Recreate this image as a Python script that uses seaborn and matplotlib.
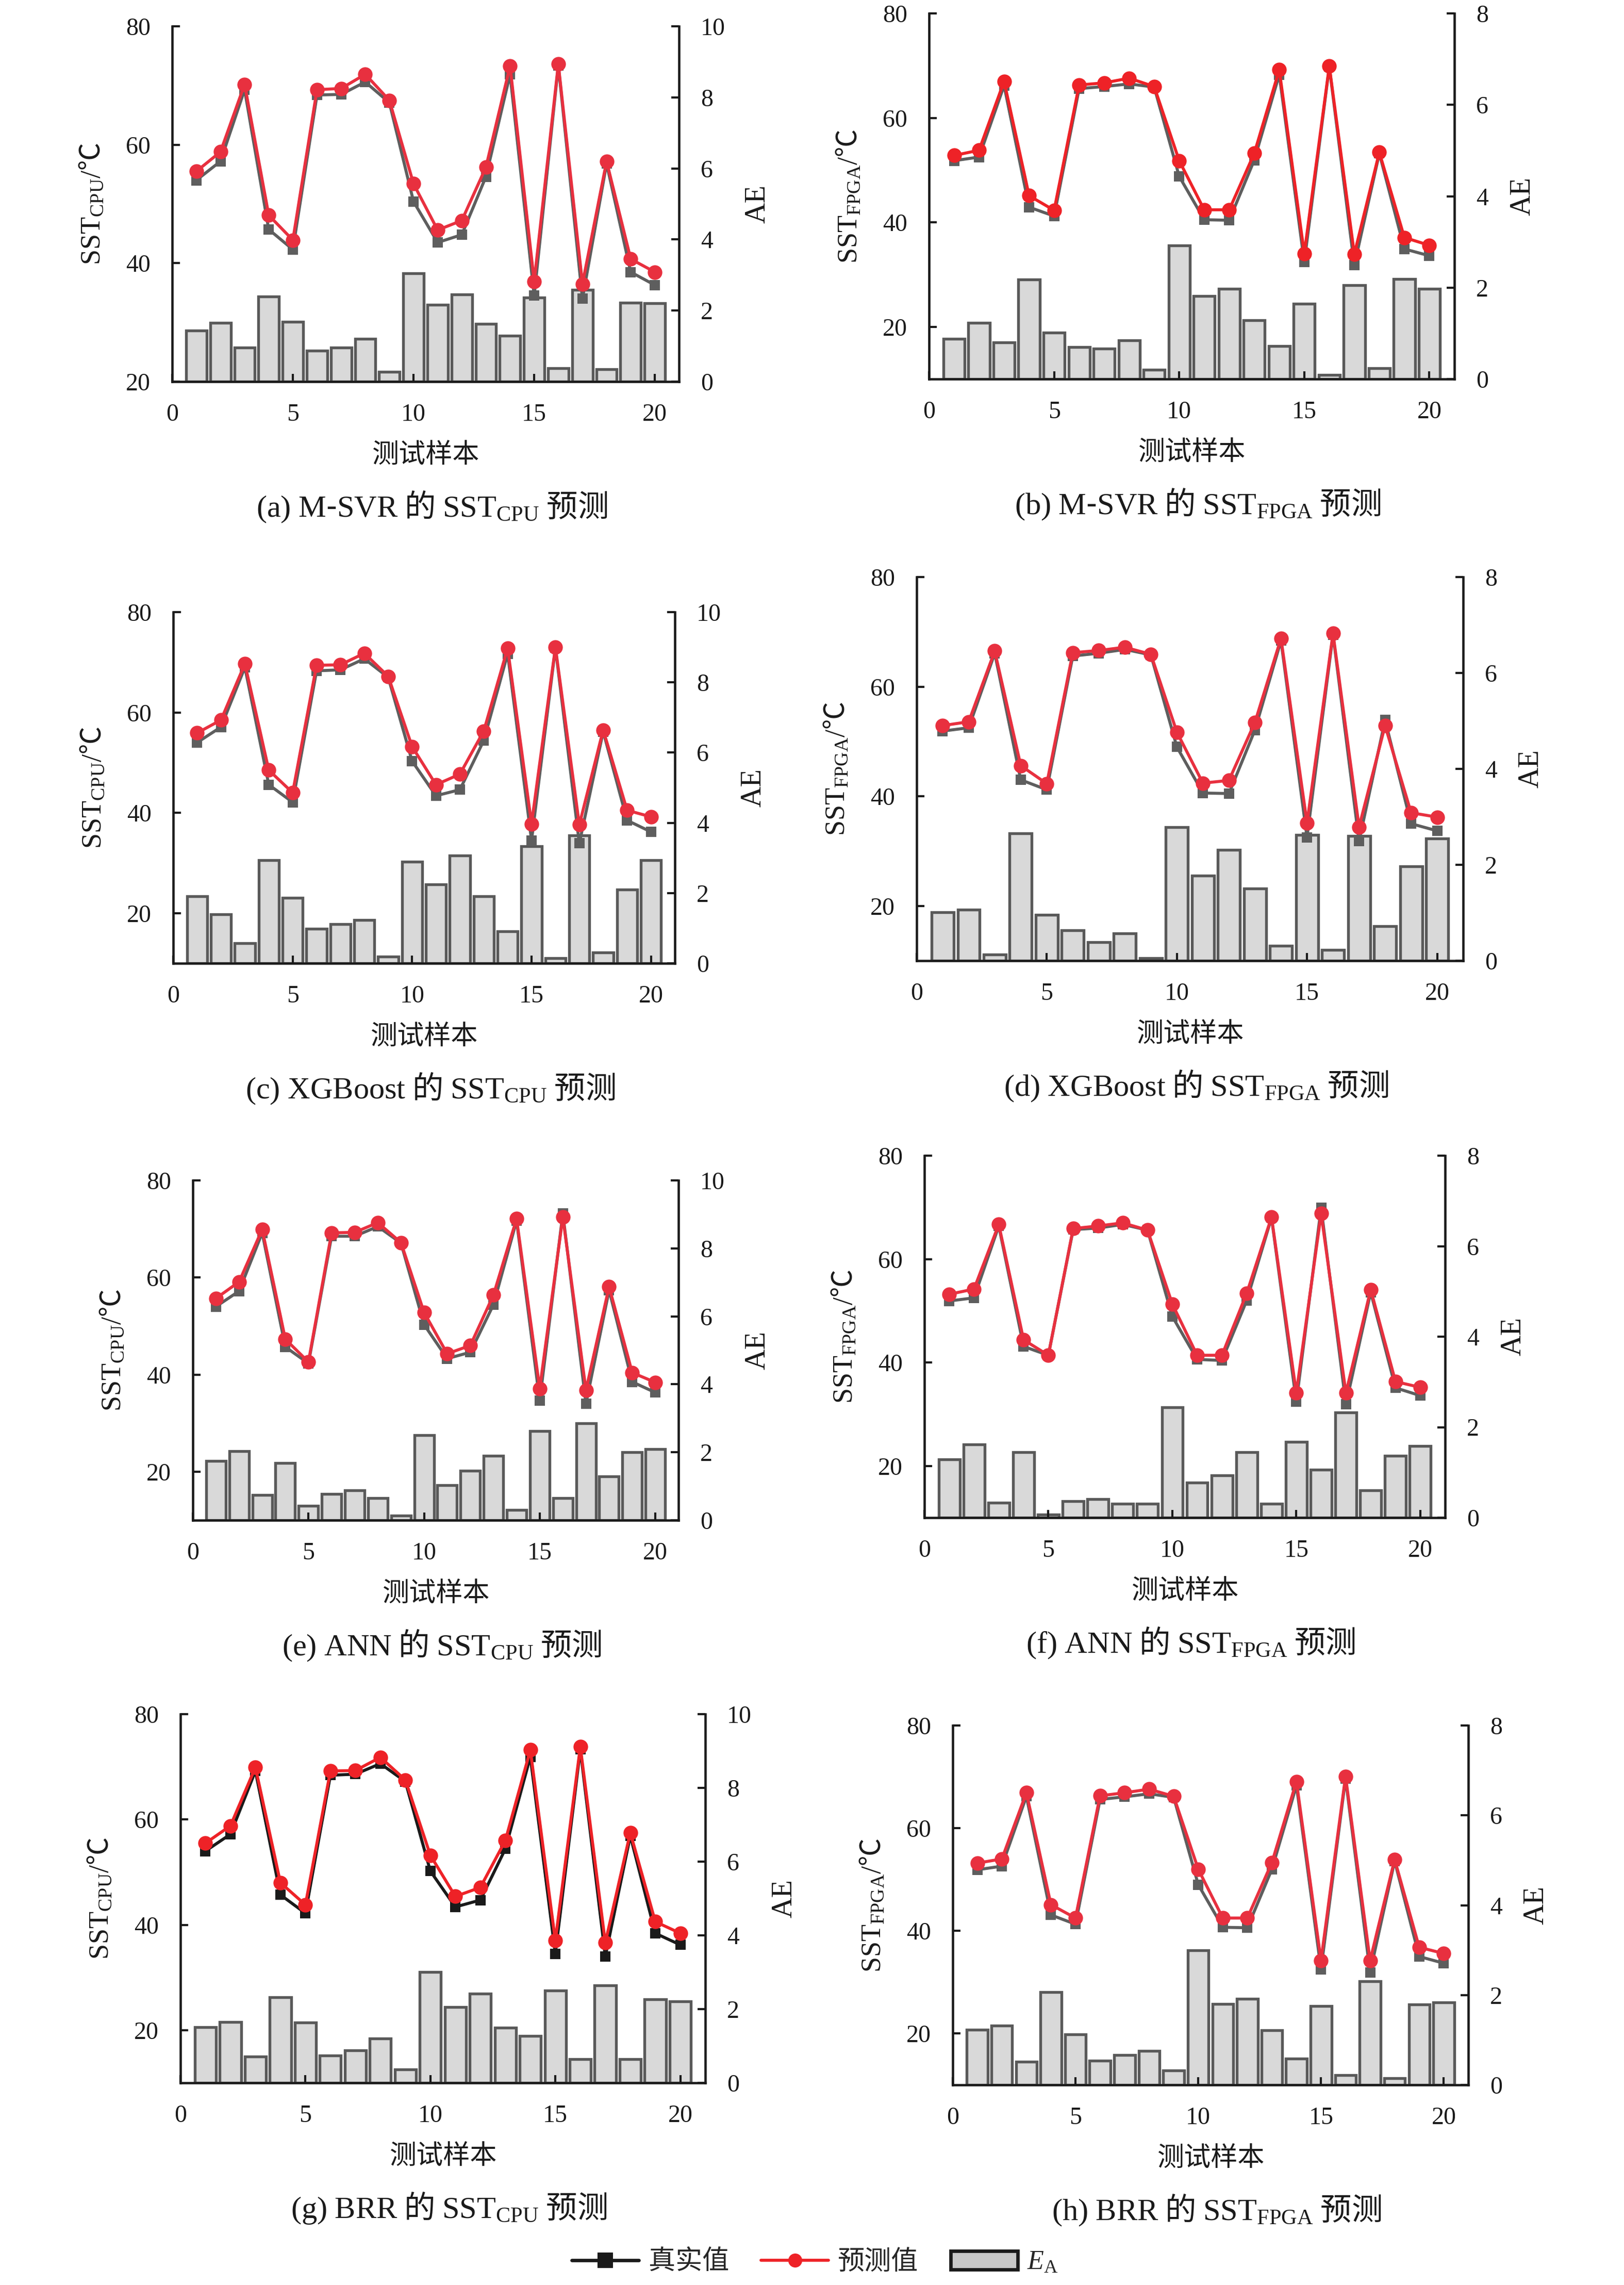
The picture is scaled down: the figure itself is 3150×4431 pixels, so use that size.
import numpy as np
import pandas as pd
import matplotlib
matplotlib.use('Agg')
import matplotlib.pyplot as plt
import seaborn as sns
from matplotlib.lines import Line2D
from matplotlib.patches import Patch

# ---------------- data ----------------
samples = list(range(1, 21))

a_real = [54.0, 57.2, 69.3, 45.7, 42.3, 68.4, 68.5, 70.6, 67.1, 50.4, 43.5, 44.8, 54.6, 71.9, 34.5, 73.4, 34.0, 56.8, 38.5, 36.3]
a_pred = [55.5, 58.8, 70.2, 48.1, 43.9, 69.3, 69.5, 71.9, 67.5, 53.4, 45.6, 47.2, 56.2, 73.3, 36.9, 73.6, 36.5, 57.2, 40.7, 38.5]
a_ae = [1.43, 1.65, 0.96, 2.40, 1.68, 0.87, 0.96, 1.21, 0.27, 3.05, 2.16, 2.45, 1.63, 1.29, 2.37, 0.38, 2.58, 0.35, 2.22, 2.21]

b_real = [51.8, 52.5, 66.2, 42.9, 41.2, 65.6, 66.0, 66.5, 65.9, 48.8, 40.5, 40.4, 51.9, 68.3, 32.4, 69.8, 31.8, 53.2, 34.9, 33.6]
b_pred = [52.8, 53.8, 67.0, 45.1, 42.3, 66.3, 66.7, 67.6, 66.0, 51.8, 42.4, 42.4, 53.2, 69.2, 34.0, 69.9, 33.9, 53.4, 37.1, 35.6]
b_ae = [0.88, 1.23, 0.80, 2.18, 1.02, 0.70, 0.67, 0.85, 0.20, 2.92, 1.82, 1.97, 1.29, 0.72, 1.65, 0.09, 2.05, 0.24, 2.19, 1.97]

c_real = [54.0, 57.1, 69.0, 45.6, 42.1, 68.3, 68.5, 70.7, 67.0, 50.3, 43.4, 44.6, 54.4, 71.7, 34.5, 72.9, 33.9, 56.2, 38.5, 36.2]
c_pred = [55.9, 58.5, 69.7, 48.5, 44.0, 69.4, 69.5, 71.8, 67.2, 53.2, 45.6, 47.7, 56.3, 72.8, 37.8, 73.0, 37.6, 56.5, 40.5, 39.2]
c_ae = [1.91, 1.40, 0.58, 2.94, 1.86, 0.98, 1.11, 1.24, 0.19, 2.90, 2.24, 3.07, 1.91, 0.91, 3.33, 0.14, 3.64, 0.31, 2.10, 2.94]

d_real = [51.9, 52.5, 66.1, 43.0, 41.2, 65.6, 66.1, 66.8, 65.8, 49.0, 40.6, 40.5, 52.1, 68.4, 32.5, 69.5, 31.8, 53.9, 35.0, 33.7]
d_pred = [52.9, 53.6, 66.5, 45.6, 42.3, 66.2, 66.6, 67.2, 65.9, 51.7, 42.4, 42.9, 53.5, 68.8, 35.1, 69.7, 34.4, 52.9, 37.0, 36.2]
d_ae = [1.01, 1.06, 0.13, 2.66, 0.96, 0.63, 0.39, 0.57, 0.05, 2.79, 1.77, 2.31, 1.51, 0.31, 2.62, 0.23, 2.60, 0.72, 1.97, 2.55]

e_real = [54.0, 57.2, 69.2, 45.7, 42.3, 68.5, 68.5, 70.5, 67.1, 50.3, 43.3, 44.6, 54.4, 71.7, 34.6, 73.2, 34.0, 57.4, 38.5, 36.3]
e_pred = [55.7, 59.1, 69.9, 47.3, 42.6, 69.2, 69.3, 71.3, 67.2, 52.8, 44.3, 46.0, 56.4, 72.1, 37.1, 72.5, 36.8, 58.1, 40.4, 38.4]
e_ae = [1.74, 2.03, 0.74, 1.69, 0.43, 0.78, 0.88, 0.66, 0.13, 2.51, 1.03, 1.45, 1.90, 0.31, 2.63, 0.65, 2.85, 1.29, 2.01, 2.10]

f_real = [51.9, 52.5, 66.4, 43.1, 41.4, 65.7, 66.0, 66.7, 65.6, 48.9, 40.6, 40.4, 52.0, 68.0, 32.4, 69.9, 31.9, 53.6, 35.1, 33.6]
f_pred = [53.2, 54.2, 66.7, 44.4, 41.4, 65.9, 66.4, 67.0, 65.6, 51.3, 41.4, 41.4, 53.4, 68.1, 34.1, 68.8, 34.1, 54.1, 36.3, 35.2]
f_ae = [1.29, 1.62, 0.33, 1.45, 0.07, 0.36, 0.41, 0.31, 0.31, 2.44, 0.77, 0.93, 1.45, 0.31, 1.68, 1.06, 2.33, 0.60, 1.37, 1.58]

g_real = [54.0, 57.2, 69.2, 45.7, 42.2, 68.4, 68.6, 70.6, 67.2, 50.2, 43.4, 44.7, 54.4, 71.9, 34.5, 73.3, 34.0, 56.9, 38.4, 36.2]
g_pred = [55.5, 58.8, 69.9, 48.0, 43.8, 69.2, 69.3, 71.8, 67.5, 53.2, 45.4, 47.1, 56.0, 73.2, 37.0, 73.8, 36.6, 57.5, 40.6, 38.4]
g_ae = [1.51, 1.65, 0.72, 2.32, 1.63, 0.74, 0.88, 1.20, 0.36, 3.01, 2.05, 2.42, 1.50, 1.27, 2.50, 0.64, 2.64, 0.64, 2.27, 2.21]

h_real = [51.9, 52.6, 66.2, 43.1, 41.3, 65.6, 66.1, 66.7, 66.0, 49.0, 40.7, 40.6, 52.0, 68.3, 32.5, 69.7, 31.9, 53.6, 35.0, 33.7]
h_pred = [53.2, 54.0, 66.9, 45.1, 42.5, 66.3, 66.9, 67.6, 66.2, 52.0, 42.5, 42.5, 53.3, 69.1, 34.2, 70.1, 34.2, 53.9, 36.8, 35.6]
h_ae = [1.23, 1.32, 0.52, 2.07, 1.12, 0.54, 0.67, 0.76, 0.32, 3.00, 1.80, 1.92, 1.22, 0.59, 1.76, 0.22, 2.31, 0.15, 1.79, 1.84]

letters = ['a', 'b', 'c', 'd', 'e', 'f', 'g', 'h']
models = ['M-SVR', 'M-SVR', 'XGBoost', 'XGBoost', 'ANN', 'ANN', 'BRR', 'BRR']
targets = ['CPU', 'FPGA', 'CPU', 'FPGA', 'CPU', 'FPGA', 'CPU', 'FPGA']
reals = [a_real, b_real, c_real, d_real, e_real, f_real, g_real, h_real]
preds = [a_pred, b_pred, c_pred, d_pred, e_pred, f_pred, g_pred, h_pred]
aes = [a_ae, b_ae, c_ae, d_ae, e_ae, f_ae, g_ae, h_ae]
x_ticks = [0, 5, 10, 15, 20]
legend_labels = ['真实值', '预测值', r'$E_{\mathrm{A}}$']

# ---------------- style ----------------
sns.set_style('ticks')
plt.rcParams['font.family'] = ['Liberation Serif', 'Noto Sans CJK SC']
plt.rcParams['mathtext.fontset'] = 'custom'
plt.rcParams['mathtext.rm'] = 'Liberation Serif'
plt.rcParams['mathtext.it'] = 'Liberation Serif:italic'
plt.rcParams['mathtext.bf'] = 'Liberation Serif:bold'
plt.rcParams['axes.unicode_minus'] = False
plt.rcParams['xtick.direction'] = 'in'
plt.rcParams['ytick.direction'] = 'in'

INK = '#1a1a1a'
BAR_FACE = '#d9d9d9'
BAR_EDGE = '#595959'
GRAY = '#5e5e5e'
RED = '#e8303f'
RED2 = '#ee2227'
CJK = 'Noto Sans CJK SC'

W, H = 3150, 4431
fig = plt.figure(figsize=(W / 300, H / 300), dpi=300)

# axes boxes in pixels: left, right, top, bottom
boxes = [(334, 1317, 51, 740), (1802, 2821, 26, 735),
         (336, 1309, 1187, 1868), (1778, 2838, 1119, 1863),
         (374, 1316, 2289, 2948), (1793, 2803, 2241, 2943),
         (350, 1368, 3324, 4039), (1848, 2848, 3346, 4043)]

for i in range(8):
    l, r, t, b = boxes[i]
    ax = fig.add_axes([l / W, 1 - b / H, (r - l) / W, (b - t) / H])
    ax2 = ax.twinx()
    df = pd.DataFrame({'x': samples, 'real': reals[i], 'pred': preds[i], 'ae': aes[i]})
    cpu = targets[i] == 'CPU'
    real_col = INK if letters[i] == 'g' else GRAY
    red_col = RED2 if letters[i] in ('b', 'g') else RED

    sns.barplot(data=df, x='x', y='ae', ax=ax2, native_scale=True, width=0.85,
                color=BAR_FACE, saturation=1, edgecolor=BAR_EDGE, linewidth=1.3,
                errorbar=None)
    sns.lineplot(data=df, x='x', y='real', ax=ax, color=real_col, marker='s',
                 markersize=4.6, linewidth=1.4, markeredgecolor=real_col,
                 markeredgewidth=0, zorder=3)
    sns.lineplot(data=df, x='x', y='pred', ax=ax, color=red_col, marker='o',
                 markersize=6.8, linewidth=1.4, markeredgecolor=red_col,
                 markeredgewidth=0, zorder=4)

    ax.set_zorder(ax2.get_zorder() + 1)
    ax.patch.set_visible(False)

    ax.set_xlim(0, 21)
    if letters[i] == 'a':
        ax.set_ylim(20, 80)
    else:
        ax.set_ylim(10, 80)
    ax.set_yticks([20, 40, 60, 80])
    ax.set_xticks(x_ticks)
    if cpu:
        ax2.set_ylim(0, 10)
        ax2.set_yticks([0, 2, 4, 6, 8, 10])
    else:
        ax2.set_ylim(0, 8)
        ax2.set_yticks([0, 2, 4, 6, 8])
    for a_ in (ax, ax2):
        a_.set_xlabel('')
        a_.set_ylabel('')
        a_.spines['top'].set_visible(False)
        for s in a_.spines.values():
            s.set_linewidth(1.1)
            s.set_color(INK)
    ax.spines['right'].set_visible(False)
    ax2.spines['left'].set_visible(False)
    ax2.spines['bottom'].set_visible(False)
    ax.tick_params(axis='both', which='major', direction='in', length=3.6, width=1.0,
                   pad=10, labelsize=11.5, colors=INK, top=False, right=False)
    ax2.tick_params(axis='y', which='major', direction='in', length=3.6, width=1.0,
                    pad=10, labelsize=11.5, colors=INK)

    cy = 1 - ((t + b) / 2) / H
    fig.text((l - 156) / W, cy, r'$\mathrm{SST}_{\mathrm{%s}}/$℃' % targets[i],
             rotation=90, ha='center', va='center', fontsize=13, family=CJK, color=INK)
    fig.text((r + (153 if cpu else 132)) / W, cy, 'AE', rotation=90, ha='center',
             va='center', fontsize=13.5, color=INK)
    fig.text(((l + r) / 2) / W, 1 - (b + 143) / H, '测试样本', ha='center', va='center',
             fontsize=12.5, family=CJK, color=INK)
    m = models[i]
    if '-' in m:
        p1, p2 = m.split('-')
        mtxt = r'$\mathrm{(%s)\ %s}$-$\mathrm{%s}$' % (letters[i], p1, p2)
    else:
        mtxt = r'$\mathrm{(%s)\ %s}$' % (letters[i], m)
    cap = mtxt + r' 的 $\mathrm{SST}_{\mathrm{%s}}$ 预测' % targets[i]
    fig.text(((l + r) / 2 + 12) / W, 1 - (b + 262) / H, cap, ha='center', va='baseline',
             fontsize=14.5, family=CJK, color=INK)

handles = [Line2D([0], [0], color=INK, lw=1.6, marker='s', markersize=7, markeredgewidth=0),
           Line2D([0], [0], color=RED2, lw=1.4, marker='o', markersize=6.5, markeredgewidth=0),
           Patch(facecolor='#c8c8c8', edgecolor=INK, linewidth=1.6)]
fig.legend(handles, legend_labels, loc='center', bbox_to_anchor=(1581 / W, 1 - 4388 / H),
           ncol=3, frameon=False, fontsize=12.5, handlelength=2.5, handletextpad=0.35,
           columnspacing=1.2)

fig.savefig('out.png', dpi=300)
